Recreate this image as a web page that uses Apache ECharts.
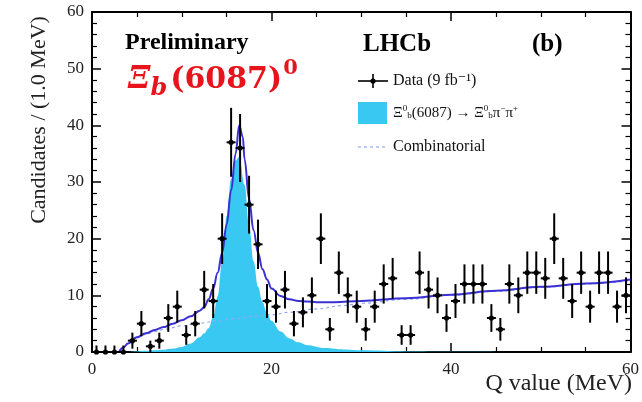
<!DOCTYPE html>
<html lang="en">
<head>
    <meta charset="UTF-8">
    <title>Xi_b(6087)0 Q value</title>
    <style>
        body { margin: 0; background: #fff; }
        #chart { width: 642px; height: 402px; }
    </style>
</head>
<body>
<div id="chart"></div>
<script src="https://cdn.jsdelivr.net/npm/echarts@6/dist/echarts.min.js"></script>
<script>
    // data: candidates per 1 MeV bin
    const binCenters = [
        0.5, 1.5, 2.5, 3.5, 4.5, 5.5, 6.5, 7.5, 8.5, 9.5,
        10.5, 11.5, 12.5, 13.5, 14.5, 15.5, 16.5, 17.5, 18.5, 19.5,
        20.5, 21.5, 22.5, 23.5, 24.5, 25.5, 26.5, 27.5, 28.5, 29.5,
        30.5, 31.5, 32.5, 33.5, 34.5, 35.5, 36.5, 37.5, 38.5, 39.5,
        40.5, 41.5, 42.5, 43.5, 44.5, 45.5, 46.5, 47.5, 48.5, 49.5,
        50.5, 51.5, 52.5, 53.5, 54.5, 55.5, 56.5, 57.5, 58.5, 59.5
    ];
    const counts = [
        0, 0, 0, 0, 2, 5, 1, 2, 6, 8,
        3, 5, 11, 9, 20, 37, 36, 26, 19, 9,
        8, 11, 5, 7, 10, 20, 4, 14, 10, 8,
        4, 8, 12, 13, 3, 3, 14, 11, 10, 6,
        9, 12, 12, 12, 6, 4, 12, 10, 14, 14,
        13, 20, 13, 9, 14, 8, 14, 14, 8, 10
    ];

    // fit components
    const sigX = [4, 5, 6, 7, 8, 9, 10, 11, 12, 12.5, 13, 13.5, 14, 14.5, 15, 15.5, 16, 16.4, 17, 17.5, 18, 18.5, 19, 19.5, 20, 21, 22, 23, 24, 26, 28, 30, 35, 40, 50, 60];
    const sigY = [0, 0.1, 0.2, 0.3, 0.4, 0.6, 0.9, 1.5, 2.6, 3.3, 4.2, 6.2, 9.8, 16, 24, 30.5, 33.8, 34.4, 29.5, 22.5, 16, 11.5, 8.8, 6.9, 5.5, 3.6, 2.4, 1.7, 1.2, 0.7, 0.45, 0.3, 0.1, 0.05, 0, 0];

    const bkgX = [3, 3.5, 4, 5, 6, 7, 8, 10, 12, 14, 16, 18, 20, 22, 25, 28, 30, 35, 40, 45, 50, 55, 60];
    const bkgY = [0, 0.8, 1.5, 2.5, 3.1, 3.6, 4.0, 4.6, 5.1, 5.5, 5.9, 6.3, 6.6, 7.0, 7.6, 8.2, 8.6, 9.3, 10.0, 10.7, 11.4, 12.0, 12.6];

    const totX = [3, 3.5, 4, 5, 6, 7, 8, 9, 10, 11, 12, 12.5, 13, 13.5, 14, 14.5, 15, 15.5, 16, 16.4, 16.8, 17, 17.5, 18, 18.5, 19, 19.5, 20, 21, 22, 23, 24, 25, 27, 30, 35, 40, 45, 50, 55, 60];
    const totY = [0, 0.8, 1.5, 2.6, 3.3, 3.9, 4.4, 5.0, 5.6, 6.3, 7.3, 7.9, 9.3, 11.2, 14, 17.5, 22.5, 28.5, 35, 40, 38, 34, 27, 21.5, 17.5, 14.6, 12.8, 11.2, 9.9, 9.3, 9.0, 8.9, 8.8, 8.8, 9.0, 9.5, 10.1, 10.8, 11.5, 12.1, 12.8];

    const xTicks = [0, 20, 40, 60];
    const yTicks = [0, 10, 20, 30, 40, 50, 60];

    const serif = '"Liberation Serif", "DejaVu Serif", serif';
    const mathSerif = '"DejaVu Serif", serif';
    const red = '#e8141b';
    const cyan = '#38c8f2';
    const fitBlue = '#3a30d4';

    const pairs = (xs, ys) => xs.map((x, i) => [x, ys[i]]);

    const chart = echarts.init(document.getElementById('chart'));

    // shared axis look (ROOT style frame, ticks pointing inward)
    function frameAxis(extra) {
        return Object.assign({
            type: 'value',
            axisLine: { show: true, onZero: false, lineStyle: { color: '#000', width: 2 } },
            axisTick: { show: true, inside: true, length: 9, lineStyle: { color: '#000', width: 1.5 } },
            minorTick: { show: true, length: 5, lineStyle: { color: '#000', width: 1.2 } },
            splitLine: { show: false },
            axisLabel: { show: false }
        }, extra);
    }

    chart.setOption({
        animation: false,
        grid: { left: 92, right: 11, top: 12, bottom: 50 },
        xAxis: [
            frameAxis({
                position: 'bottom', min: xTicks[0], max: xTicks[xTicks.length - 1], interval: 20,
                minorTick: { show: true, splitNumber: 4, length: 5, lineStyle: { color: '#000', width: 1.2 } },
                axisLabel: { show: true, fontFamily: serif, fontSize: 17, color: '#222', margin: 9 }
            }),
            frameAxis({
                position: 'top', min: 0, max: 60, interval: 20,
                minorTick: { show: true, splitNumber: 4, length: 5, lineStyle: { color: '#000', width: 1.2 } }
            })
        ],
        yAxis: [
            frameAxis({
                position: 'left', min: yTicks[0], max: yTicks[yTicks.length - 1], interval: 10,
                minorTick: { show: true, splitNumber: 5, length: 5, lineStyle: { color: '#000', width: 1.2 } },
                axisLabel: { show: true, fontFamily: serif, fontSize: 17, color: '#222', margin: 8 }
            }),
            frameAxis({
                position: 'right', min: 0, max: 60, interval: 10,
                minorTick: { show: true, splitNumber: 5, length: 5, lineStyle: { color: '#000', width: 1.2 } }
            })
        ],
        series: [
            {
                name: 'signal',
                type: 'line',
                data: pairs(sigX, sigY),
                smooth: 0.4,
                smoothMonotone: 'x',
                showSymbol: false,
                lineStyle: { width: 0 },
                areaStyle: { color: cyan, opacity: 1 },
                z: 1
            },
            {
                name: 'Combinatorial',
                type: 'line',
                data: pairs(bkgX, bkgY),
                smooth: 0.4,
                smoothMonotone: 'x',
                showSymbol: false,
                lineStyle: { color: '#8fa8f0', width: 1.2, type: [3, 3] },
                z: 2
            },
            {
                name: 'total',
                type: 'line',
                data: pairs(totX, totY),
                smooth: 0.4,
                smoothMonotone: 'x',
                showSymbol: false,
                lineStyle: { color: fitBlue, width: 2 },
                z: 3
            },
            {
                name: 'Data',
                type: 'custom',
                data: pairs(binCenters, counts),
                z: 5,
                renderItem: function (params, api) {
                    const x = api.value(0);
                    const n = api.value(1);
                    const err = n > 0 ? Math.sqrt(n) : 1.15;
                    const c = api.coord([x, n]);
                    const lo = api.coord([x, Math.max(n - err, 0)]);
                    const hi = api.coord([x, n + err]);
                    const l = api.coord([x - 0.5, n]);
                    const r = api.coord([x + 0.5, n]);
                    const st = { stroke: '#000', lineWidth: 2 };
                    return {
                        type: 'group',
                        children: [
                            { type: 'line', shape: { x1: c[0], y1: lo[1], x2: c[0], y2: hi[1] }, style: st },
                            { type: 'line', shape: { x1: l[0], y1: c[1], x2: r[0], y2: c[1] }, style: st },
                            { type: 'circle', shape: { cx: c[0], cy: c[1], r: 2.6 }, style: { fill: '#000' } }
                        ]
                    };
                }
            }
        ],
        graphic: [
            // axis titles
            {
                type: 'text', x: 632, y: 384,
                style: { text: 'Q value (MeV)', font: '24px ' + serif, fill: '#222', textAlign: 'right', textVerticalAlign: 'middle' }
            },
            {
                type: 'text', x: 39, y: 120, rotation: Math.PI / 2,
                style: { text: 'Candidates / (1.0 MeV)', font: '22px ' + serif, fill: '#222', textAlign: 'center', textVerticalAlign: 'middle' }
            },
            // labels
            {
                type: 'text', x: 125, y: 43,
                style: { text: 'Preliminary', font: 'bold 24px ' + serif, fill: '#000', textVerticalAlign: 'middle' }
            },
            {
                type: 'text', x: 128, y: 80,
                style: {
                    text: '{xi|Ξ}{sb|b}{m|(6087)}{sp|0}',
                    textVerticalAlign: 'middle',
                    rich: {
                        xi: { font: 'italic bold 32px ' + mathSerif, fill: red, color: red },
                        sb: { font: 'italic bold 24px ' + mathSerif, fill: red, color: red, padding: [18, 0, 0, 0] },
                        m: { font: 'bold 30px ' + mathSerif, fill: red, color: red, padding: [0, 0, 0, 3] },
                        sp: { font: 'bold 21px ' + mathSerif, fill: red, color: red, padding: [0, 0, 22, 1] }
                    }
                }
            },
            {
                type: 'text', x: 363, y: 45,
                style: { text: 'LHCb', font: 'bold 25px ' + serif, fill: '#000', textVerticalAlign: 'middle' }
            },
            {
                type: 'text', x: 532, y: 45,
                style: { text: '(b)', font: 'bold 25px ' + serif, fill: '#000', textVerticalAlign: 'middle' }
            },
            // legend: data marker
            { type: 'line', shape: { x1: 358, y1: 81, x2: 388, y2: 81 }, style: { stroke: '#000', lineWidth: 1.6 } },
            { type: 'line', shape: { x1: 373, y1: 74, x2: 373, y2: 88 }, style: { stroke: '#000', lineWidth: 1.6 } },
            { type: 'circle', shape: { cx: 373, cy: 81, r: 2.6 }, style: { fill: '#000' } },
            {
                type: 'text', x: 393, y: 81,
                style: { text: 'Data (9 fb\u207B\u00B9)', font: '16px ' + serif, fill: '#111', textVerticalAlign: 'middle' }
            },
            // legend: signal box
            { type: 'rect', shape: { x: 358, y: 102, width: 29, height: 22 }, style: { fill: cyan } },
            {
                type: 'text', x: 393, y: 113,
                style: {
                    text: 'Ξ{sp|0}{sb|b}(6087) → Ξ{sp|0}{sb|b}π{sp|−}π{sp|+}',
                    font: '15px ' + serif, fill: '#111', textVerticalAlign: 'middle',
                    rich: {
                        sp: { font: '9px ' + serif, fill: '#111', color: '#111', padding: [0, 0, 8, 0] },
                        sb: { font: '9px ' + serif, fill: '#111', color: '#111', padding: [6, 0, 0, 0] }
                    }
                }
            },
            // legend: combinatorial
            { type: 'line', shape: { x1: 358, y1: 147, x2: 388, y2: 147 }, style: { stroke: '#8fa8f0', lineWidth: 1.2, lineDash: [3, 3] } },
            {
                type: 'text', x: 393, y: 147,
                style: { text: 'Combinatorial', font: '16px ' + serif, fill: '#111', textVerticalAlign: 'middle' }
            }
        ]
    });
</script>
</body>
</html>
